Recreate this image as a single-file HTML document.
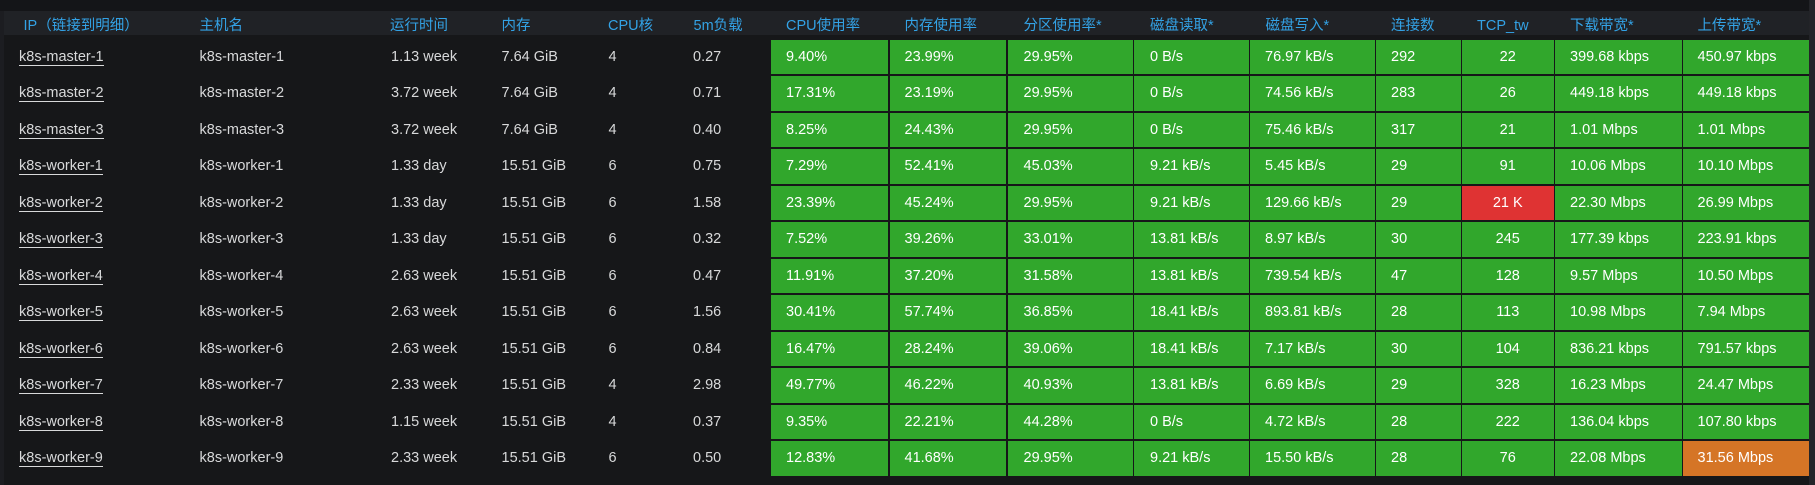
<!DOCTYPE html>
<html><head><meta charset="utf-8">
<style>
html,body{margin:0;padding:0;}
body{width:1815px;height:485px;background:#161719;position:relative;overflow:hidden;
font-family:"Liberation Sans","Noto Sans CJK SC",sans-serif;font-size:14.5px;color:#d8d9da;}
.top{position:absolute;left:0;top:0;width:1815px;height:11px;background:#141518;}
.lstripe{position:absolute;left:0;top:11px;width:4px;height:474px;background:#1c1d21;}
.rstripe{position:absolute;left:1809px;top:0;width:6px;height:485px;background:#232428;}
.hdr{position:absolute;left:4px;top:11px;width:1805px;height:24px;background:#202226;}
.h{position:absolute;top:13.5px;height:24px;line-height:24px;color:#33a2e5;white-space:nowrap;}
.r{position:absolute;left:0;width:1809px;height:34.5px;}
.r>span{position:absolute;top:0;height:34.5px;line-height:34.5px;white-space:nowrap;}
.r>div{position:absolute;top:0;height:34.5px;line-height:34.5px;white-space:nowrap;box-sizing:border-box;padding-left:15px;background:#31a72c;color:#fff;}
.a{left:19px;}
.a u{text-decoration:none;border-bottom:1px solid #d8d9da;}
.b{left:199.5px}
.c{left:391px}
.d{left:501.5px}
.e{left:608.5px}
.f{left:693px}
.g{left:771px;width:117px}
.hh{left:889.5px;width:116.5px}
.i{left:1007.5px;width:125.5px;padding-left:16px!important}
.j{left:1134px;width:115px;padding-left:16px!important}
.k{left:1250px;width:125px}
.l{left:1376px;width:85px}
.m{left:1462px;width:91.5px;text-align:center;padding-left:0!important}
.n{left:1555px;width:127px}
.o{left:1683px;width:125.5px;padding-left:14.5px!important}
.red{background:#df3333!important}
.org{background:#d57526!important}
</style></head><body>
<div class="top"></div>
<div class="lstripe"></div>
<div class="rstripe"></div>
<div class="hdr"></div>
<span class="h" style="left:23.5px">IP（链接到明细）</span>
<span class="h" style="left:199.5px">主机名</span>
<span class="h" style="left:390px">运行时间</span>
<span class="h" style="left:501.5px">内存</span>
<span class="h" style="left:608px">CPU核</span>
<span class="h" style="left:693.5px">5m负载</span>
<span class="h" style="left:786px">CPU使用率</span>
<span class="h" style="left:904.5px">内存使用率</span>
<span class="h" style="left:1023.5px">分区使用率*</span>
<span class="h" style="left:1150px">磁盘读取*</span>
<span class="h" style="left:1265.5px">磁盘写入*</span>
<span class="h" style="left:1391px">连接数</span>
<span class="h" style="left:1477px">TCP_tw</span>
<span class="h" style="left:1570px">下载带宽*</span>
<span class="h" style="left:1697.5px">上传带宽*</span>

<div class="r" style="top:39.5px"><span class="a"><u>k8s-master-1</u></span><span class="b">k8s-master-1</span><span class="c">1.13 week</span><span class="d">7.64 GiB</span><span class="e">4</span><span class="f">0.27</span><div class="g">9.40%</div><div class="hh">23.99%</div><div class="i">29.95%</div><div class="j">0 B/s</div><div class="k">76.97 kB/s</div><div class="l">292</div><div class="m">22</div><div class="n">399.68 kbps</div><div class="o">450.97 kbps</div></div>

<div class="r" style="top:76px"><span class="a"><u>k8s-master-2</u></span><span class="b">k8s-master-2</span><span class="c">3.72 week</span><span class="d">7.64 GiB</span><span class="e">4</span><span class="f">0.71</span><div class="g">17.31%</div><div class="hh">23.19%</div><div class="i">29.95%</div><div class="j">0 B/s</div><div class="k">74.56 kB/s</div><div class="l">283</div><div class="m">26</div><div class="n">449.18 kbps</div><div class="o">449.18 kbps</div></div>

<div class="r" style="top:112.5px"><span class="a"><u>k8s-master-3</u></span><span class="b">k8s-master-3</span><span class="c">3.72 week</span><span class="d">7.64 GiB</span><span class="e">4</span><span class="f">0.40</span><div class="g">8.25%</div><div class="hh">24.43%</div><div class="i">29.95%</div><div class="j">0 B/s</div><div class="k">75.46 kB/s</div><div class="l">317</div><div class="m">21</div><div class="n">1.01 Mbps</div><div class="o">1.01 Mbps</div></div>

<div class="r" style="top:149px"><span class="a"><u>k8s-worker-1</u></span><span class="b">k8s-worker-1</span><span class="c">1.33 day</span><span class="d">15.51 GiB</span><span class="e">6</span><span class="f">0.75</span><div class="g">7.29%</div><div class="hh">52.41%</div><div class="i">45.03%</div><div class="j">9.21 kB/s</div><div class="k">5.45 kB/s</div><div class="l">29</div><div class="m">91</div><div class="n">10.06 Mbps</div><div class="o">10.10 Mbps</div></div>

<div class="r" style="top:185.5px"><span class="a"><u>k8s-worker-2</u></span><span class="b">k8s-worker-2</span><span class="c">1.33 day</span><span class="d">15.51 GiB</span><span class="e">6</span><span class="f">1.58</span><div class="g">23.39%</div><div class="hh">45.24%</div><div class="i">29.95%</div><div class="j">9.21 kB/s</div><div class="k">129.66 kB/s</div><div class="l">29</div><div class="m red">21 K</div><div class="n">22.30 Mbps</div><div class="o">26.99 Mbps</div></div>

<div class="r" style="top:222px"><span class="a"><u>k8s-worker-3</u></span><span class="b">k8s-worker-3</span><span class="c">1.33 day</span><span class="d">15.51 GiB</span><span class="e">6</span><span class="f">0.32</span><div class="g">7.52%</div><div class="hh">39.26%</div><div class="i">33.01%</div><div class="j">13.81 kB/s</div><div class="k">8.97 kB/s</div><div class="l">30</div><div class="m">245</div><div class="n">177.39 kbps</div><div class="o">223.91 kbps</div></div>

<div class="r" style="top:258.5px"><span class="a"><u>k8s-worker-4</u></span><span class="b">k8s-worker-4</span><span class="c">2.63 week</span><span class="d">15.51 GiB</span><span class="e">6</span><span class="f">0.47</span><div class="g">11.91%</div><div class="hh">37.20%</div><div class="i">31.58%</div><div class="j">13.81 kB/s</div><div class="k">739.54 kB/s</div><div class="l">47</div><div class="m">128</div><div class="n">9.57 Mbps</div><div class="o">10.50 Mbps</div></div>

<div class="r" style="top:295px"><span class="a"><u>k8s-worker-5</u></span><span class="b">k8s-worker-5</span><span class="c">2.63 week</span><span class="d">15.51 GiB</span><span class="e">6</span><span class="f">1.56</span><div class="g">30.41%</div><div class="hh">57.74%</div><div class="i">36.85%</div><div class="j">18.41 kB/s</div><div class="k">893.81 kB/s</div><div class="l">28</div><div class="m">113</div><div class="n">10.98 Mbps</div><div class="o">7.94 Mbps</div></div>

<div class="r" style="top:331.5px"><span class="a"><u>k8s-worker-6</u></span><span class="b">k8s-worker-6</span><span class="c">2.63 week</span><span class="d">15.51 GiB</span><span class="e">6</span><span class="f">0.84</span><div class="g">16.47%</div><div class="hh">28.24%</div><div class="i">39.06%</div><div class="j">18.41 kB/s</div><div class="k">7.17 kB/s</div><div class="l">30</div><div class="m">104</div><div class="n">836.21 kbps</div><div class="o">791.57 kbps</div></div>

<div class="r" style="top:368px"><span class="a"><u>k8s-worker-7</u></span><span class="b">k8s-worker-7</span><span class="c">2.33 week</span><span class="d">15.51 GiB</span><span class="e">4</span><span class="f">2.98</span><div class="g">49.77%</div><div class="hh">46.22%</div><div class="i">40.93%</div><div class="j">13.81 kB/s</div><div class="k">6.69 kB/s</div><div class="l">29</div><div class="m">328</div><div class="n">16.23 Mbps</div><div class="o">24.47 Mbps</div></div>

<div class="r" style="top:404.5px"><span class="a"><u>k8s-worker-8</u></span><span class="b">k8s-worker-8</span><span class="c">1.15 week</span><span class="d">15.51 GiB</span><span class="e">4</span><span class="f">0.37</span><div class="g">9.35%</div><div class="hh">22.21%</div><div class="i">44.28%</div><div class="j">0 B/s</div><div class="k">4.72 kB/s</div><div class="l">28</div><div class="m">222</div><div class="n">136.04 kbps</div><div class="o">107.80 kbps</div></div>

<div class="r" style="top:441px"><span class="a"><u>k8s-worker-9</u></span><span class="b">k8s-worker-9</span><span class="c">2.33 week</span><span class="d">15.51 GiB</span><span class="e">6</span><span class="f">0.50</span><div class="g">12.83%</div><div class="hh">41.68%</div><div class="i">29.95%</div><div class="j">9.21 kB/s</div><div class="k">15.50 kB/s</div><div class="l">28</div><div class="m">76</div><div class="n">22.08 Mbps</div><div class="o org">31.56 Mbps</div></div>
</body></html>
